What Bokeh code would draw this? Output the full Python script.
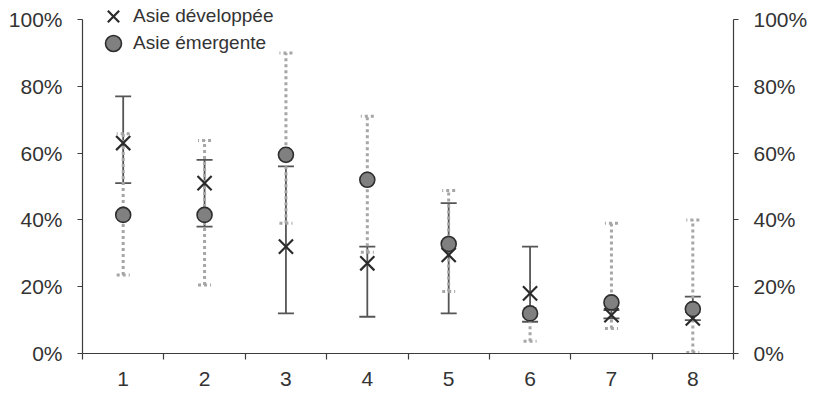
from bokeh.plotting import figure
from bokeh.models import (ColumnDataSource, Range1d, LinearAxis, FixedTicker,
                          NumeralTickFormatter, Whisker, TeeHead, Legend, LegendItem)
from bokeh.embed import file_html
from bokeh.resources import INLINE

categories = [1, 2, 3, 4, 5, 6, 7, 8]
tick_labels = ["1", "2", "3", "4", "5", "6", "7", "8"]
series_names = ["Asie développée", "Asie émergente"]

# Asie développée (valeur, borne basse, borne haute) en %
dev_mid = [63, 51, 32, 27, 29.5, 18, 11.5, 10.5]
dev_low = [51, 38, 12, 11, 12, 9.5, 10.5, 10]
dev_high = [77, 58, 56, 32, 45, 32, 13, 17]

# Asie émergente
emg_mid = [41.5, 41.5, 59.5, 52, 32.8, 12, 15.3, 13.3]
emg_low = [23.5, 20.5, 39, 30.3, 18.6, 3.7, 7.5, 0.3]
emg_high = [65.8, 63.8, 90, 71, 48.8, 13.5, 39, 40]

y_ticks = [0, 0.2, 0.4, 0.6, 0.8, 1.0]

def frac(v):
    return [x / 100.0 for x in v]

src_dev = ColumnDataSource(dict(x=categories, y=frac(dev_mid), lo=frac(dev_low), hi=frac(dev_high)))
src_emg = ColumnDataSource(dict(x=categories, y=frac(emg_mid), lo=frac(emg_low), hi=frac(emg_high)))

FONT = "Liberation Sans"
TXT = "#333333"
AX = "#3c3c3c"

# frame reaches the top of the page so the legend above 100 % is not clipped
TOP_PAD = 19 / 334.0

p = figure(width=819, height=393, output_backend="svg", toolbar_location=None,
           x_range=Range1d(0.5, 8.5), y_range=Range1d(0, 1 + TOP_PAD),
           x_axis_location=None, y_axis_location=None,
           min_border_left=82, min_border_right=86, min_border_top=0, min_border_bottom=40)
p.outline_line_color = None
p.xgrid.visible = False
p.ygrid.visible = False
p.background_fill_color = "white"
p.border_fill_color = "white"

def style_axis(ax):
    ax.axis_line_color = AX
    ax.axis_line_width = 1.2
    ax.major_tick_line_color = AX
    ax.major_tick_line_width = 1.2
    ax.minor_tick_line_color = AX
    ax.minor_tick_line_width = 1.2
    ax.major_label_text_font = FONT
    ax.major_label_text_font_size = "21px"
    ax.major_label_text_color = TXT

# bottom axis: labels centred, ticks between categories
xb = LinearAxis(ticker=FixedTicker(ticks=categories,
                                   minor_ticks=[c - 0.5 for c in categories] + [categories[-1] + 0.5]))
style_axis(xb)
xb.major_tick_out = 0
xb.major_tick_in = 0
xb.minor_tick_out = 6
xb.minor_tick_in = 0
xb.major_label_standoff = 12
xb.major_label_overrides = {c: t for c, t in zip(categories, tick_labels)}
p.add_layout(xb, "below")

for side in ("left", "right"):
    ya = LinearAxis(ticker=FixedTicker(ticks=y_ticks, minor_ticks=[]),
                    formatter=NumeralTickFormatter(format="0%"), bounds=(0, 1))
    style_axis(ya)
    ya.major_tick_out = 5
    ya.major_tick_in = 0
    ya.minor_tick_out = 0
    ya.minor_tick_in = 0
    ya.major_label_standoff = 15
    p.add_layout(ya, side)

# error bars
w_dev = Whisker(base="x", upper="hi", lower="lo", source=src_dev, dimension="height",
                line_color="#555555", line_width=1.8, level="underlay",
                upper_head=TeeHead(size=16, line_color="#555555", line_width=1.8),
                lower_head=TeeHead(size=16, line_color="#555555", line_width=1.8))
p.add_layout(w_dev)

w_emg = Whisker(base="x", upper="hi", lower="lo", source=src_emg, dimension="height",
                line_color="#a6a6a6", line_width=3, line_dash="3 3", level="underlay",
                upper_head=TeeHead(size=13, line_color="#a6a6a6", line_width=3, line_dash="3 3"),
                lower_head=TeeHead(size=13, line_color="#a6a6a6", line_width=3, line_dash="3 3"))
p.add_layout(w_emg)

r_dev = p.scatter("x", "y", source=src_dev, marker="x", size=20,
                  line_color="#2b2b2b", line_width=2.2)
r_emg = p.scatter("x", "y", source=src_emg, marker="circle", size=15,
                  fill_color="#808080", line_color="#2e2e2e", line_width=1.6)

def make_legend(name, rend, loc):
    return Legend(items=[LegendItem(label=name, renderers=[rend])],
                  location=loc, orientation="vertical",
                  glyph_width=40, glyph_height=40, label_height=40,
                  spacing=0, padding=0, margin=0, label_standoff=0,
                  label_text_font=FONT, label_text_font_size="19px",
                  label_text_color=TXT, background_fill_alpha=0,
                  border_line_alpha=0)

p.add_layout(make_legend(series_names[0], r_dev, (11, 317)), "center")
p.add_layout(make_legend(series_names[1], r_emg, (11, 290)), "center")

open("out.html", "w").write(file_html(p, INLINE))
